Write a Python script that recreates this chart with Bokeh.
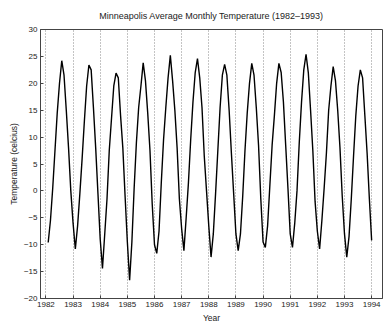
from bokeh.plotting import figure
from bokeh.models import Range1d, FixedTicker, ColumnDataSource
from bokeh.embed import file_html
from bokeh.resources import INLINE

# Monthly average temperatures (deg C), Jan..Dec
years = [1982, 1983, 1984, 1985, 1986, 1987, 1988, 1989, 1990, 1991, 1992, 1993]
t1982 = [-9.6, -5.5, 0.5, 7.5, 14.5, 20.0, 24.2, 21.5, 15.0, 8.0, 0.0, -6.0]
t1983 = [-10.8, -6.5, -0.5, 6.0, 13.0, 19.5, 23.4, 22.5, 15.5, 8.0, -0.5, -9.0]
t1984 = [-14.4, -8.0, -1.5, 7.5, 13.5, 19.5, 21.9, 21.0, 14.0, 8.0, -1.0, -9.5]
t1985 = [-16.6, -9.5, 0.5, 9.0, 15.5, 19.5, 23.8, 20.5, 14.5, 7.5, -2.5, -10.0]
t1986 = [-11.6, -7.5, 1.5, 9.5, 15.5, 21.0, 25.2, 20.5, 15.0, 8.0, -1.5, -7.0]
t1987 = [-11.1, -5.0, 1.5, 9.5, 16.5, 22.0, 24.6, 21.0, 15.5, 6.5, 0.0, -6.5]
t1988 = [-12.3, -8.0, -0.5, 7.5, 15.5, 21.5, 23.5, 21.5, 15.0, 7.0, -0.5, -8.0]
t1989 = [-11.1, -8.0, -1.0, 7.5, 14.5, 20.0, 23.7, 21.5, 15.5, 8.5, -1.5, -9.5]
t1990 = [-10.5, -6.5, 1.0, 8.5, 14.0, 20.0, 23.7, 22.0, 16.5, 8.5, 0.5, -8.0]
t1991 = [-10.5, -6.0, 0.0, 9.0, 16.5, 22.5, 25.4, 22.0, 15.0, 7.5, -2.0, -7.5]
t1992 = [-10.8, -5.5, 0.5, 7.0, 15.0, 19.5, 23.1, 20.5, 15.0, 8.0, -1.0, -8.0]
t1993 = [-12.3, -8.5, -1.5, 6.5, 14.0, 19.5, 22.5, 21.0, 14.0, 7.0, -1.5, -9.2]

year_ticks = [1982, 1983, 1984, 1985, 1986, 1987, 1988, 1989, 1990, 1991, 1992, 1993, 1994]
temp_ticks = [-20, -15, -10, -5, 0, 5, 10, 15, 20, 25, 30]

series = [t1982, t1983, t1984, t1985, t1986, t1987, t1988, t1989, t1990, t1991, t1992, t1993]
xs, ys = [], []
for yr, vals in zip(years, series):
    for m, v in enumerate(vals, start=1):
        xs.append(yr + m / 12.0)
        ys.append(v)
src = ColumnDataSource(dict(x=xs, y=ys))

FONT = "Liberation Sans"
p = figure(width=384, height=325, output_backend="svg", toolbar_location=None,
           x_range=Range1d(1981.8, 1994.4), y_range=Range1d(-20, 30),
           min_border_left=40, min_border_right=2, min_border_top=29, min_border_bottom=24)

p.line("x", "y", source=src, line_color="black", line_width=1.4)

p.title.text = "Minneapolis Average Monthly Temperature (1982\u20131993)"
p.title.align = "center"
p.title.text_font = FONT
p.title.text_font_size = "9px"
p.title.text_font_style = "normal"
p.title.text_color = "#222222"
p.title.standoff = 17

for ax in (p.xaxis[0], p.yaxis[0]):
    ax.major_tick_in = 3
    ax.major_tick_out = 0
    ax.minor_tick_line_color = None
    ax.major_label_text_font = FONT
    ax.major_label_text_font_size = "8px"
    ax.major_label_text_color = "#222222"
    ax.axis_label_text_font = FONT
    ax.axis_label_text_font_size = "8.5px"
    ax.axis_label_text_font_style = "normal"
    ax.axis_label_text_color = "#222222"
    ax.axis_line_color = "#444444"
    ax.major_tick_line_color = "#444444"
    ax.major_label_standoff = 3

p.xaxis.ticker = FixedTicker(ticks=year_ticks)
p.yaxis.ticker = FixedTicker(ticks=temp_ticks)
p.xaxis.axis_label = "Year"
p.yaxis.axis_label = "Temperature (celcius)"
p.xaxis.axis_label_standoff = 3
p.yaxis.axis_label_standoff = 2

p.xgrid.grid_line_color = "#888888"
p.xgrid.grid_line_dash = "1 2"
p.xgrid.grid_line_width = 1
p.ygrid.grid_line_color = None

p.outline_line_color = "#444444"
p.outline_line_alpha = 1
p.background_fill_color = "white"
p.border_fill_color = "white"

open("out.html", "w").write(file_html(p, INLINE))
